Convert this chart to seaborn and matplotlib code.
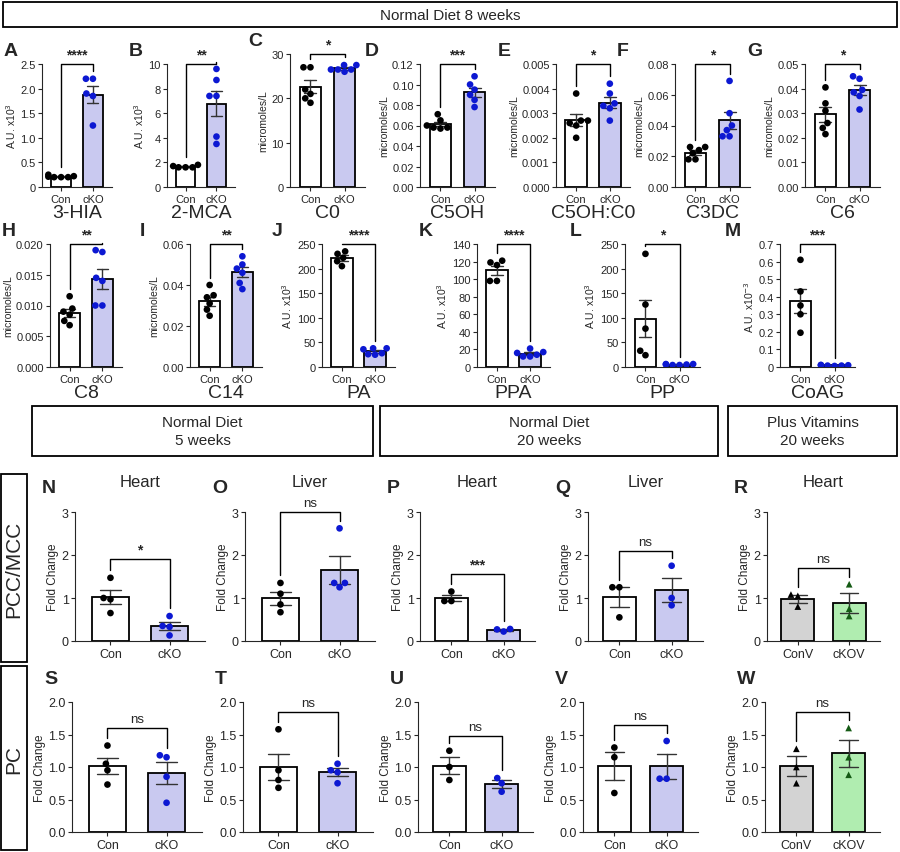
import numpy as np
import pandas as pd
import seaborn as sns
import matplotlib
matplotlib.use("Agg")
import matplotlib.pyplot as plt
from matplotlib.patches import Rectangle

sns.set_style("ticks")
plt.rcParams['font.family'] = ['Liberation Sans', 'DejaVu Sans']

# ---------------- data ----------------
groups = ["Con", "cKO"]
groups_v = ["ConV", "cKOV"]

A_con = [0.20, 0.22, 0.25, 0.20, 0.21, 0.20]; A_cko = [2.2, 2.2, 1.9, 1.85, 1.25]
B_con = [1.8, 1.7, 1.6, 1.6, 1.6];            B_cko = [9.6, 8.7, 7.4, 7.4, 4.1, 3.5]
C_con = [27, 27, 22, 21, 20, 19];             C_cko = [27.5, 27.5, 26.5, 26.5, 26, 26.5]
D_con = [0.071, 0.065, 0.060, 0.058, 0.057, 0.058]; D_cko = [0.108, 0.100, 0.095, 0.090, 0.085, 0.078]
E_con = [0.0038, 0.0027, 0.0027, 0.0026, 0.0025, 0.0020]; E_cko = [0.0042, 0.0038, 0.0034, 0.0033, 0.0032, 0.0027]
F_con = [0.026, 0.026, 0.024, 0.022, 0.018, 0.018]; F_cko = [0.069, 0.048, 0.040, 0.037, 0.033, 0.033]
G_con = [0.0405, 0.034, 0.031, 0.026, 0.024, 0.0215]; G_cko = [0.045, 0.044, 0.0395, 0.0385, 0.037, 0.0315]
H_con = [0.0115, 0.0095, 0.009, 0.0085, 0.0075, 0.0068]; H_cko = [0.019, 0.0187, 0.0145, 0.014, 0.010, 0.010]
I_con = [0.040, 0.035, 0.034, 0.031, 0.028, 0.025]; I_cko = [0.054, 0.050, 0.048, 0.046, 0.041, 0.038]
J_con = [235, 230, 222, 215, 205];            J_cko = [38, 38, 36, 28, 26, 25]
K_con = [121, 119, 116, 98, 98];              K_cko = [21, 17, 16, 14, 12, 12]
L_con = [230, 127, 78, 33, 24];               L_cko = [4, 6, 5, 5, 4, 6]
M_con = [0.61, 0.43, 0.35, 0.30, 0.195];      M_cko = [0.010, 0.012, 0.008, 0.006, 0.008, 0.010]

N_con = [1.47, 1.0, 0.97, 0.65]; N_cko = [0.58, 0.35, 0.33, 0.13]
O_con = [1.35, 1.1, 0.85, 0.67]; O_cko = [2.62, 1.35, 1.35, 1.25]
P_con = [1.15, 0.93, 0.93];      P_cko = [0.22, 0.28, 0.27]
Q_con = [1.25, 1.25, 0.55];      Q_cko = [1.75, 1.0, 0.83]
R_con = [1.08, 1.05, 0.8];       R_cko = [1.32, 0.75, 0.58]
S_con = [1.33, 1.05, 0.95, 0.73]; S_cko = [1.18, 1.15, 0.85, 0.45]
T_con = [1.58, 0.95, 0.8, 0.68]; T_cko = [1.05, 0.95, 0.92, 0.75]
U_con = [1.25, 1.0, 0.8];        U_cko = [0.83, 0.75, 0.62]
V_con = [1.3, 1.15, 0.6];        V_cko = [1.4, 0.82, 0.82]
W_con = [1.28, 1.0, 0.75];       W_cko = [1.6, 1.15, 0.88]

W, H = 900, 853
fig = plt.figure(figsize=(9, 8.53), dpi=100)

LAV = "#c2c2f7"
BLUE = "#0c18d2"
GREEN = "#a6f7a6"
DKGREEN = "#145a14"


def ax_px(x0, y0, x1, y1):
    return fig.add_axes([x0 / W, 1 - y1 / H, (x1 - x0) / W, (y1 - y0) / H])


def panel(rect, letter, con, cko, ylim, ticks, ticklabels, ylabel, sig, name=None,
          title=None, labels=groups, colors=("white", LAV), ptcol=("black", BLUE),
          marker="o", br=None, letter_dx=-38, letter_y=None, fs=8):
    ax = ax_px(*rect)
    df = pd.DataFrame({"g": [labels[0]] * len(con) + [labels[1]] * len(cko),
                       "v": list(con) + list(cko)})
    sns.barplot(data=df, x="g", y="v", order=labels, hue="g", hue_order=labels,
                palette=list(colors), errorbar="se", capsize=0.35, width=0.64,
                edgecolor="black", linewidth=1.3, err_kws={"linewidth": 1.0, "color": "#333333"},
                legend=False, ax=ax)
    sns.swarmplot(data=df, x="g", y="v", order=labels, hue="g", hue_order=labels,
                  palette=list(ptcol), size=4.8, marker=marker, legend=False, ax=ax)
    ax.set_ylim(*ylim)
    ax.set_xlim(-0.6, 1.6)
    ax.set_yticks(ticks)
    ax.set_yticklabels(ticklabels, fontsize=fs)
    ax.tick_params(axis="x", labelsize=fs, length=3, pad=2)
    ax.tick_params(axis="y", length=3, pad=1.5)
    ax.set_ylabel(ylabel, fontsize=fs - 0.5, labelpad=2)
    ax.set_xlabel(name if name else "", fontsize=14, labelpad=0)
    sns.despine(ax=ax)
    span = ylim[1] - ylim[0]
    ytop = ylim[1] if br is None else br
    yl = max(con) + 0.06 * span
    yr = max(cko) + 0.06 * span
    ax.plot([0, 0, 1, 1], [yl, ytop, ytop, yr], color="black", lw=1.0, clip_on=False)
    ax.text(0.5, ytop + 0.02 * span, sig, ha="center", va="bottom",
            fontsize=10 if sig != "ns" else 9.5,
            fontweight="bold" if sig != "ns" else "normal")
    if title:
        fig.text((rect[0] + rect[2]) / 2 / W, 1 - 483 / H, title, fontsize=12,
                 ha="center", va="center")
    ly = rect[1] - 5 if letter_y is None else letter_y
    fig.text((rect[0] + letter_dx) / W, 1 - ly / H, letter, fontsize=14,
             fontweight="bold", ha="left", va="bottom")
    return ax


def t(vals):
    return [str(v) for v in vals]


mu = "micromoles/L"
AU = "A.U. x10$^3$"
# row 1
y0, y1 = 65, 188
panel((42, y0, 112, y1), "A", A_con, A_cko, (0, 2.5), [0, .5, 1, 1.5, 2, 2.5], ["0", "0.5", "1.0", "1.5", "2.0", "2.5"], AU, "****", "3-HIA")
panel((167, y0, 235, y1), "B", B_con, B_cko, (0, 10), [0, 2, 4, 6, 8, 10], t([0, 2, 4, 6, 8, 10]), AU, "**", "2-MCA")
panel((290, 55, 365, y1), "C", C_con, C_cko, (0, 30), [0, 10, 20, 30], t([0, 10, 20, 30]), mu, "*", "C0", letter_dx=-42)
panel((420, 65, 495, y1), "D", D_con, D_cko, (0, 0.12), [0, .02, .04, .06, .08, .10, .12], ["0.00", "0.02", "0.04", "0.06", "0.08", "0.10", "0.12"], mu, "***", "C5OH", letter_dx=-55)
panel((556, 65, 630, y1), "E", E_con, E_cko, (0, 0.005), [0, .001, .002, .003, .004, .005], ["0.000", "0.001", "0.002", "0.003", "0.004", "0.005"], mu, "*", "C5OH:C0", letter_dx=-58)
panel((675, 65, 750, y1), "F", F_con, F_cko, (0, 0.08), [0, .02, .04, .06, .08], ["0.00", "0.02", "0.04", "0.06", "0.08"], mu, "*", "C3DC", letter_dx=-58)
panel((805, 65, 880, y1), "G", G_con, G_cko, (0, 0.05), [0, .01, .02, .03, .04, .05], ["0.00", "0.01", "0.02", "0.03", "0.04", "0.05"], mu, "*", "C6", letter_dx=-58)
# row 2
y0, y1 = 245, 368
panel((50, y0, 122, y1), "H", H_con, H_cko, (0, 0.02), [0, .005, .01, .015, .02], ["0.000", "0.005", "0.010", "0.015", "0.020"], mu, "**", "C8", letter_dx=-48)
panel((190, y0, 262, y1), "I", I_con, I_cko, (0, 0.06), [0, .02, .04, .06], ["0.00", "0.02", "0.04", "0.06"], mu, "**", "C14", letter_dx=-50)
panel((322, y0, 395, y1), "J", J_con, J_cko, (0, 250), [0, 50, 100, 150, 200, 250], t([0, 50, 100, 150, 200, 250]), AU, "****", "PA", letter_dx=-50)
panel((477, y0, 550, y1), "K", K_con, K_cko, (0, 140), list(range(0, 141, 20)), t(range(0, 141, 20)), AU, "****", "PPA", letter_dx=-58)
panel((625, y0, 700, y1), "L", L_con, L_cko, (0, 250), [0, 50, 100, 150, 200, 250], t([0, 50, 100, 150, 200, 250]), AU, "*", "PP", letter_dx=-55)
panel((780, y0, 855, y1), "M", M_con, M_cko, (0, 0.7), [0, .1, .2, .3, .4, .5, .6, .7], ["0", "0.1", "0.2", "0.3", "0.4", "0.5", "0.6", "0.7"], "A.U. x10$^{-3}$", "***", "CoAG", letter_dx=-55)


def box(x0, y0, x1, y1, text, rot=0, fs=11):
    fig.patches.append(Rectangle((x0 / W, 1 - y1 / H), (x1 - x0) / W, (y1 - y0) / H,
                                 transform=fig.transFigure, fill=False, lw=1.3, ec="black"))
    fig.text((x0 + x1) / 2 / W, 1 - (y0 + y1) / 2 / H, text, ha="center", va="center",
             fontsize=fs, rotation=rot, linespacing=1.3)

box(3, 3, 897, 28, "Normal Diet 8 weeks")
box(32, 407, 373, 457, "Normal Diet\n5 weeks")
box(380, 407, 718, 457, "Normal Diet\n20 weeks")
box(728, 407, 897, 457, "Plus Vitamins\n20 weeks")
box(1, 475, 27, 663, "PCC/MCC", rot=90, fs=15)
box(1, 667, 27, 851, "PC", rot=90, fs=15)

fc = "Fold Change"
xs3 = [(75, 205), (245, 375), (420, 535), (588, 703), (767, 880)]
xs4 = [(72, 202), (243, 373), (418, 533), (583, 698), (765, 880)]
# row 3
y0, y1 = 513, 642
specs3 = [("N", N_con, N_cko, "*", "Heart", 1.9), ("O", O_con, O_cko, "ns", "Liver", 3.0),
          ("P", P_con, P_cko, "***", "Heart", 1.55), ("Q", Q_con, Q_cko, "ns", "Liver", 2.1),
          ("R", R_con, R_cko, "ns", "Heart", 1.7)]
for (xa, xb), (L, c, k, s, ti, b) in zip(xs3, specs3):
    kw = {}
    if L == "R":
        kw = dict(labels=groups_v, colors=("#d3d3d3", GREEN), ptcol=("black", DKGREEN), marker="^")
    panel((xa, y0, xb, y1), L, c, k, (0, 3), [0, 1, 2, 3], t([0, 1, 2, 3]), fc, s,
          title=ti, br=b, letter_dx=-33, letter_y=497, fs=9, **kw)
# row 4
y0, y1 = 703, 833
specs4 = [("S", S_con, S_cko, "ns", 1.6), ("T", T_con, T_cko, "ns", 1.85), ("U", U_con, U_cko, "ns", 1.48),
          ("V", V_con, V_cko, "ns", 1.65), ("W", W_con, W_cko, "ns", 1.85)]
for (xa, xb), (L, c, k, s, b) in zip(xs4, specs4):
    kw = {}
    if L == "W":
        kw = dict(labels=groups_v, colors=("#d3d3d3", GREEN), ptcol=("black", DKGREEN), marker="^")
    panel((xa, y0, xb, y1), L, c, k, (0, 2), [0, .5, 1, 1.5, 2], ["0.0", "0.5", "1.0", "1.5", "2.0"], fc, s,
          br=b, letter_dx=-28, letter_y=688, fs=9, **kw)

fig.savefig("out.png", dpi=100)
